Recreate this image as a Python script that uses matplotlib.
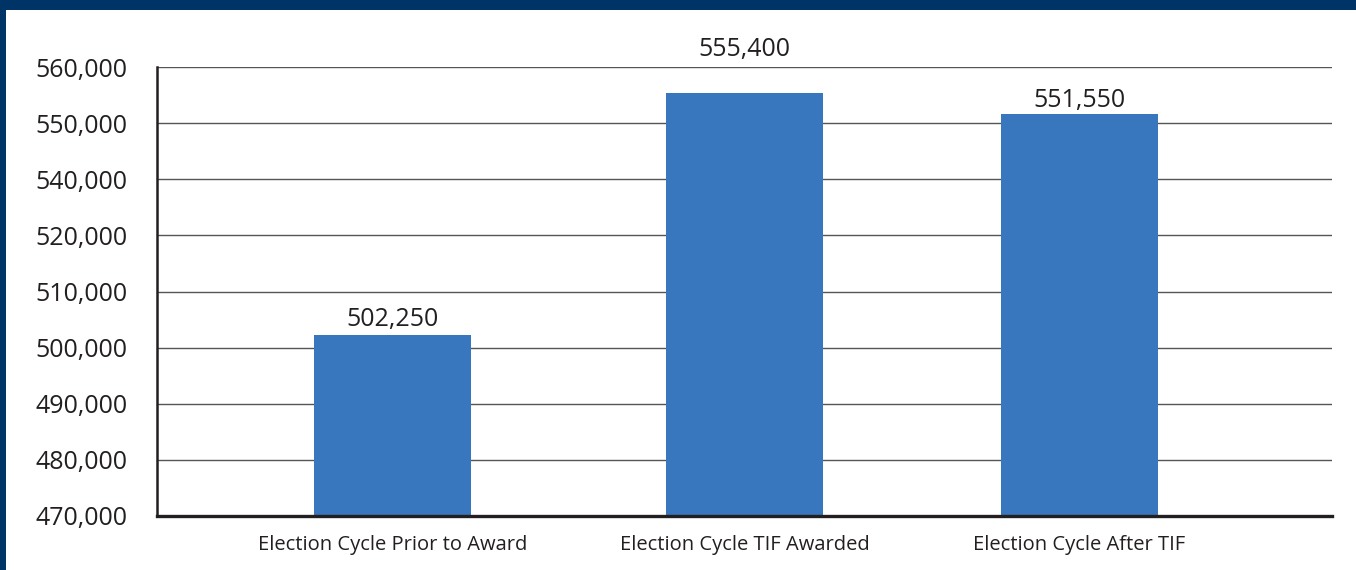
import numpy as np
import matplotlib
matplotlib.use("Agg")
import matplotlib.pyplot as plt
from matplotlib.patches import Rectangle

# Data
categories = ["Election Cycle Prior to Award", "Election Cycle TIF Awarded", "Election Cycle After TIF"]
values = [502250, 555400, 551550]
tick_values = [470000, 480000, 490000, 500000, 510000, 520000, 540000, 550000, 560000]
tick_labels = ["470,000", "480,000", "490,000", "500,000", "510,000", "520,000",
               "540,000", "550,000", "560,000"]

# Layout / style
x_pos = [0.601, 1.50, 2.355]
bar_width = 0.40
label_offsets_px = [9, 37, 7]
bar_color = "#3877bd"
navy = "#003466"
text_color = "#231f20"
font = "Open Sans"

W, H, DPI = 1356, 570, 100
fig = plt.figure(figsize=(W / DPI, H / DPI), dpi=DPI)
fig.patch.set_facecolor("white")

# Navy frame: band across the top and down the left edge
fig.add_artist(Rectangle((0, 1 - 10 / H), 1, 10 / H, transform=fig.transFigure,
                         facecolor=navy, edgecolor="none", zorder=10))
fig.add_artist(Rectangle((0, 0), 6 / W, 1, transform=fig.transFigure,
                         facecolor=navy, edgecolor="none", zorder=10))

ax = fig.add_axes([157 / W, (H - 516) / H, 1175 / W, (516 - 67) / H])

# Evenly spaced gridlines carrying the listed tick values
idx = np.arange(len(tick_values), dtype=float)
fwd = lambda v: np.interp(v, tick_values, idx)
inv = lambda p: np.interp(p, idx, tick_values)
ax.set_yscale("function", functions=(fwd, inv))

base = tick_values[0]
ax.bar(x_pos, [v - base for v in values], bottom=base, width=bar_width,
       color=bar_color, zorder=2)

ax.set_xlim(0, 3)
ax.set_ylim(base, 560050)
ax.set_yticks(tick_values)
ax.set_yticklabels(tick_labels, fontfamily=font, fontsize=18, color=text_color)
ax.set_xticks(x_pos)
ax.set_xticklabels(categories, fontfamily=font, fontsize=14.5, color=text_color)
ax.tick_params(axis="y", length=0, pad=21)
ax.tick_params(axis="x", length=0, pad=14)

ax.grid(axis="y", color="#555555", linewidth=1.0, zorder=0)
ax.set_axisbelow(True)
for s in ("top", "right"):
    ax.spines[s].set_visible(False)
ax.spines["left"].set_color("#231f20")
ax.spines["left"].set_linewidth(1.8)
ax.spines["bottom"].set_color("#231f20")
ax.spines["bottom"].set_linewidth(2.4)

for x, v, off in zip(x_pos, values, label_offsets_px):
    ax.annotate(f"{v:,}", (x, v), xytext=(0, off * 72 / DPI), textcoords="offset points",
                ha="center", va="baseline", fontfamily=font, fontsize=18,
                color=text_color, annotation_clip=False)

fig.savefig("out.png", dpi=DPI, facecolor="white")
